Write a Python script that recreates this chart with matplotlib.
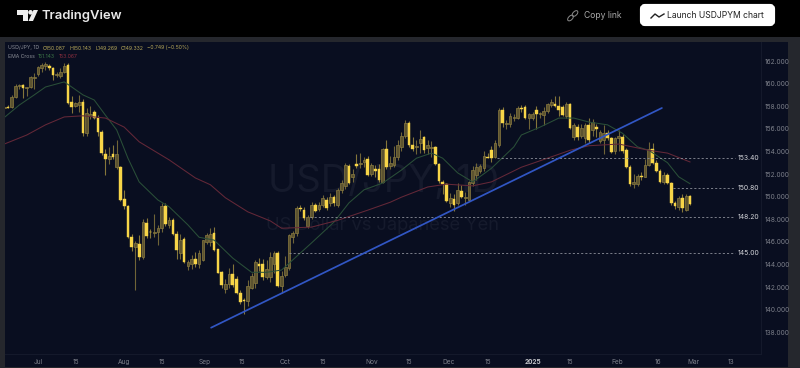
import matplotlib
matplotlib.use('Agg')
import matplotlib.pyplot as plt
from matplotlib.patches import Rectangle, Polygon, Circle, Ellipse, FancyBboxPatch
import numpy as np

plt.rcParams['font.family'] = ['Inter', 'DejaVu Sans']

# Daily candles, first bar is index -9, 1 Jul 2024 is index 0
opens = [157.85,157.95,157.9,158.85,159.75,159.85,159.6,159.7,160.5,160.85,
         161.4,161.6,161.6,161.35,160.75,160.7,161.0,161.65,158.4,158.0,
         158.1,158.4,155.6,157.15,157.45,156.95,155.7,153.8,153.3,153.8,
         152.6,152.65,149.8,149.15,146.4,145.55,145.8,144.65,147.65,146.9,
         146.8,146.85,147.2,149.2,147.5,147.95,146.7,145.0,146.25,143.9,
         144.0,144.45,144.0,144.4,146.0,146.0,146.8,145.35,143.3,141.8,
         142.3,143.15,142.7,141.5,140.8,140.8,141.95,142.35,144.0,144.05,
         142.9,142.9,144.0,145.0,142.1,143.05,143.65,146.4,146.8,149.0,
         148.85,147.4,148.2,149.25,148.9,149.3,149.7,149.4,150.0,149.3,
         150.6,150.9,152.7,151.7,152.9,152.9,153.1,153.35,152.0,152.4,
         152.4,151.3,154.2,152.7,152.8,153.5,154.4,155.4,156.5,154.55,
         154.4,154.7,155.3,154.3,154.3,154.4,152.9,151.3,151.1,149.4,
         149.8,149.4,150.5,149.9,149.7,151.2,151.9,152.3,152.5,153.5,
         154.1,153.5,154.55,157.65,156.4,156.4,157.0,157.0,157.85,157.9,
         157.0,157.0,157.7,157.3,157.2,157.6,158.1,158.2,158.0,157.95,
         157.1,158.2,155.3,156.2,155.4,155.2,156.3,155.9,156.2,154.9,
         155.0,155.6,155.15,154.0,155.2,155.25,154.1,152.65,151.1,151.1,
         151.8,151.75,152.8,154.2,153.0,152.25,151.3,151.9,151.2,149.4,
         149.1,149.85,148.8,150.087]
highs = [158.05,158.1,158.95,159.95,159.95,160.0,159.7,160.7,160.9,161.6,
         161.8,161.95,161.75,161.5,161.0,161.4,161.8,161.8,158.9,158.4,
         159.0,158.6,157.8,158.0,157.7,157.2,155.9,154.2,154.4,154.6,
         155.0,152.7,150.6,149.3,146.7,146.1,146.6,148.0,148.1,147.1,
         148.5,147.5,149.4,149.4,148.2,148.1,147.0,146.7,146.4,144.4,
         144.8,145.1,145.3,146.2,146.8,147.2,147.3,145.4,143.4,142.7,
         143.7,144.0,143.0,141.7,141.0,142.6,143.2,144.4,144.6,144.5,
         144.4,145.1,145.2,145.2,143.4,144.7,146.7,147.0,149.2,149.3,
         149.1,148.4,149.5,149.4,149.5,150.1,150.0,150.3,150.1,150.8,
         151.5,153.0,152.9,152.4,153.8,153.9,153.5,153.6,153.0,152.8,
         152.9,154.3,155.0,153.6,154.5,155.0,155.7,156.75,156.7,155.3,
         155.0,155.9,155.4,155.0,154.9,154.5,153.0,151.5,151.2,150.3,
         150.2,151.2,151.0,150.4,151.4,152.7,153.0,152.9,154.0,153.9,
         154.5,155.0,157.8,157.9,156.8,157.4,157.3,158.0,158.1,158.1,
         157.4,157.5,158.0,157.5,157.9,158.3,158.6,158.9,158.9,158.1,
         158.4,158.3,156.5,156.4,156.4,156.5,157.0,156.9,156.4,155.9,
         156.3,155.9,155.3,155.3,155.9,155.5,154.3,152.8,152.0,152.0,
         152.2,153.3,154.85,154.7,153.2,152.4,152.2,152.1,151.3,149.6,
         150.05,150.2,150.2,150.143]
lows = [157.65,157.8,157.8,158.7,159.5,158.7,158.9,159.6,159.5,160.7,
        161.0,161.2,161.2,160.3,160.6,160.5,160.9,158.2,157.4,157.9,
        157.5,155.4,155.4,156.9,156.9,155.4,153.7,151.9,152.9,153.3,
        152.4,149.6,148.9,146.3,145.2,141.7,144.4,144.5,146.3,146.3,
        146.4,145.7,146.9,147.4,147.2,146.6,144.5,144.5,144.1,143.5,
        143.6,143.8,143.7,144.3,145.8,145.6,145.2,143.2,141.9,141.5,
        141.9,142.0,141.4,140.5,139.6,140.3,141.8,141.9,143.4,142.6,
        142.7,142.4,143.2,142.0,141.5,142.9,143.5,145.9,146.5,148.7,
        147.95,147.2,148.0,148.6,148.7,149.1,148.8,149.2,149.2,149.1,
        150.3,150.7,151.1,151.3,152.5,152.5,152.6,151.8,151.8,151.7,
        151.3,151.2,152.4,152.4,152.6,153.2,154.0,155.2,154.4,154.0,
        153.8,153.9,153.9,153.8,153.5,152.8,151.2,150.2,149.5,149.1,
        148.7,149.3,149.9,149.3,149.6,150.9,151.5,152.1,152.3,153.4,
        153.1,153.4,154.4,156.2,156.0,156.2,156.7,156.9,157.5,156.9,
        156.0,156.8,156.0,157.0,156.3,157.4,157.9,157.9,157.1,157.1,
        157.0,156.0,155.0,155.0,155.2,154.7,154.7,155.4,155.3,154.7,
        153.8,155.0,153.9,153.8,154.0,153.9,152.5,150.9,150.8,150.9,
        151.5,151.7,152.7,152.9,152.2,151.2,151.1,151.15,149.3,148.9,
        148.8,148.6,148.7,149.269]
closes = [157.95,157.85,158.85,159.8,159.85,159.65,159.6,160.55,160.6,161.45,
          161.65,161.7,161.4,160.75,160.85,161.0,161.55,158.3,157.9,158.25,
          158.35,155.65,157.4,157.3,156.95,155.7,153.85,153.3,153.6,153.5,
          153.8,149.7,149.15,146.4,145.5,145.9,144.65,147.75,146.5,146.85,
          146.9,147.2,149.2,147.55,147.9,146.7,145.3,146.2,144.2,144.2,
          144.5,144.0,145.0,146.15,146.6,146.7,145.3,143.25,142.2,142.3,
          143.15,142.2,141.5,140.7,140.75,142.1,143.0,144.2,143.85,142.9,
          143.6,144.65,145.0,142.1,143.0,143.8,146.6,146.8,149.0,148.9,
          148.1,148.2,149.25,148.7,149.3,149.9,149.0,150.0,149.4,150.6,
          151.2,152.8,151.2,152.0,152.7,153.0,153.25,151.9,152.8,152.3,
          151.5,154.2,152.6,153.0,153.5,154.6,155.4,156.5,154.6,154.2,
          154.5,155.1,154.1,154.6,154.4,152.9,151.35,151.1,149.6,149.85,
          149.25,150.55,150.0,149.95,151.3,152.35,152.65,152.7,153.6,153.45,
          153.4,154.7,157.65,156.5,156.5,157.1,157.05,157.8,157.75,157.0,
          157.3,157.3,157.3,157.4,157.6,158.2,158.4,158.0,157.65,157.2,
          158.2,156.1,156.3,155.3,156.1,156.3,155.0,156.6,155.95,155.7,
          155.65,155.15,153.97,155.15,155.35,154.05,152.65,151.1,151.3,151.8,
          151.75,152.8,154.2,152.95,152.3,151.3,151.9,151.2,149.4,149.15,
          149.85,148.95,150.05,149.332]

ema_fast_idx = [-9,-5,-1,2,7,9,12,15,18,21,24,27,32,35,40,43,47,52,57,61,65,68,73,79,83,87,92,97,
                101,105,108,112,116,121,127,129,134,139,143,147,152,156,160,163,168,171,174]
ema_fast = [157.0,158.1,159.0,159.7,160.15,159.7,159.0,158.55,157.2,155.9,153.4,151.3,149.7,149.1,
            147.5,146.4,146.15,144.55,143.3,143.3,143.5,144.4,145.9,147.75,149.45,150.6,151.2,152.35,
            153.4,153.85,153.4,152.1,151.3,152.5,154.4,155.45,156.15,156.95,156.95,156.6,156.35,155.6,
            154.4,154.1,153.0,151.75,151.143]
ema_slow_idx = [-9,-3,2,7,12,18,23,27,35,42,46,50,56,62,65,73,80,88,94,97,104,109,116,121,129,136,
                142,147,155,163,168,174]
ema_slow = [154.65,155.45,156.35,157.05,157.15,156.95,156.15,154.85,153.25,151.65,151.05,149.9,148.65,
            147.85,147.2,147.3,147.9,148.8,149.5,149.95,150.85,151.1,150.95,151.3,152.6,153.4,154.1,
            154.5,154.65,154.1,153.85,153.067]

trend_idx = [46.2, 166.5]
trend_price = [138.4, 157.84]

# level, first bar of the dashed line, text
levels = [153.40, 150.80, 148.20, 145.00]
level_start = [122.5, 169.5, 72.5, 67]
level_labels = ['153.40', '150.80', '148.20', '145.00']

y_ticks = [138, 140, 142, 144, 146, 148, 150, 152, 154, 156, 158, 160, 162]
x_tick_pos = [0, 10, 23, 33, 44.6, 54.5, 66, 76, 89, 99, 109.5, 120, 132, 142, 154.5, 165.5, 175, 185]
x_tick_labels = ['Jul', '15', 'Aug', '15', 'Sep', '15', 'Oct', '15', 'Nov', '15', 'Dec', '15',
                 '2025', '15', 'Feb', '16', 'Mar', '13']

PANE = '#090e20'
W, H = 800, 368
PX_PER_BAR = 3.747
PX_PER_YEN = 11.3

fig = plt.figure(figsize=(8, 3.68), dpi=100, facecolor='#000000')

# page chrome in pixel coordinates
bg = fig.add_axes([0, 0, 1, 1], zorder=0)
bg.set_xlim(0, W)
bg.set_ylim(H, 0)
bg.axis('off')
bg.add_patch(Rectangle((0, 37), W, H - 37, fc='#25272d', ec='none'))
bg.add_patch(Rectangle((5, 42), 783, 325, fc=PANE, ec='none'))

# TradingView logo
bg.add_patch(Polygon([(17, 10), (28, 10), (28, 21), (22.5, 21), (22.5, 15), (17, 15)], fc='#eeeeee', ec='none'))
bg.add_patch(Circle((30.5, 12.3), 2.3, fc='#eeeeee', ec='none'))
bg.add_patch(Polygon([(33.5, 10), (38, 10), (33, 21), (28.5, 21)], fc='#eeeeee', ec='none'))
bg.text(42, 15.5, 'TradingView', color='#e8e8e8', fontsize=9.4, fontweight='semibold', va='center', ha='left')

# copy link
bg.add_patch(Ellipse((575, 13.5), 7, 4, angle=-45, fc='none', ec='#8c8c8c', lw=0.7))
bg.add_patch(Ellipse((570.5, 18), 7, 4, angle=-45, fc='none', ec='#8c8c8c', lw=0.7))
bg.text(584, 16, 'Copy link', color='#a8a8a8', fontsize=6.2, va='center', ha='left')

# launch button
bg.add_patch(FancyBboxPatch((642, 6), 131, 18, boxstyle='round,pad=0,rounding_size=3',
                            fc='#ffffff', ec='#ffffff', lw=3))
bg.plot([651, 655, 659, 664], [18, 14, 17, 14], color='#222222', lw=1)
bg.text(667, 16, 'Launch USDJPYM chart', color='#222222', fontsize=6.2, va='center', ha='left')

# watermark
bg.text(383, 182, 'USD/JPY, 1D', color='#151a2c', fontsize=27.5, va='center', ha='center')
bg.text(383, 225, 'US Dollar vs Japanese Yen', color='#151a2c', fontsize=13.2, va='center', ha='center')

# price pane, data coordinates set so that bar 0 sits at x=38 and 162 at y=61
ax = fig.add_axes([5 / W, (H - 354) / H, 756 / W, 312 / H], zorder=1)
ax.patch.set_alpha(0)
ax.set_xlim((5 - 38) / PX_PER_BAR, (761 - 38) / PX_PER_BAR)
ax.set_ylim(162 - (354 - 61) / PX_PER_YEN, 162 + (61 - 42) / PX_PER_YEN)

o = np.array(opens)
h = np.array(highs)
l = np.array(lows)
c = np.array(closes)
idx = np.arange(len(o)) - 9
up = c >= o

ax.vlines(idx[up], l[up], h[up], color='#6f6437', lw=0.8, zorder=2)
ax.vlines(idx[~up], l[~up], h[~up], color='#85763a', lw=0.8, zorder=2)
ax.bar(idx[up], np.maximum(c[up] - o[up], 0.06), bottom=o[up], width=0.72,
       color='#5c5330', edgecolor='#8a7b40', lw=0.5, zorder=3)
ax.bar(idx[~up], np.maximum(o[~up] - c[~up], 0.06), bottom=c[~up], width=0.72,
       color='#f7d548', edgecolor='#f7d548', lw=0.3, zorder=3)

ax.plot(ema_fast_idx, ema_fast, color='#2a4f38', lw=0.75, zorder=4)
ax.plot(ema_slow_idx, ema_slow, color='#642838', lw=0.75, zorder=4)
ax.plot(trend_idx, trend_price, color='#3156c4', lw=1.25, zorder=5, solid_capstyle='round')

label_idx = (735 - 38) / PX_PER_BAR
for lev, start, txt in zip(levels, level_start, level_labels):
    ax.plot([start, label_idx], [lev, lev], color='#8d909a', lw=0.6, dashes=(2.5, 2.5), zorder=4)
    ax.text(label_idx + 0.8, lev, txt, color='#d4d5da', fontsize=4.9, va='center', ha='left', zorder=6)

ax.yaxis.tick_right()
ax.set_yticks(y_ticks)
ax.set_yticklabels([f'{v:.3f}' for v in y_ticks])
ax.set_xticks(x_tick_pos)
ax.set_xticklabels(x_tick_labels)
ax.tick_params(axis='y', length=0, pad=2.5, labelsize=4.7, labelcolor='#7d808a')
ax.tick_params(axis='x', length=0, pad=3.8, labelsize=4.7, labelcolor='#7d808a')
ax.get_xticklabels()[12].set_fontweight('bold')
ax.get_xticklabels()[12].set_color('#c4c5ca')
for side in ['top', 'left']:
    ax.spines[side].set_visible(False)
for side in ['right', 'bottom']:
    ax.spines[side].set_color('#151a2c')
    ax.spines[side].set_linewidth(0.7)

# legend rows at the top of the pane
legend_row = [(8, 'USD/JPY, 1D', '#8a8d96'), (43, 'O150.087', '#b5a658'), (69, 'H150.143', '#b5a658'),
              (95, 'L149.269', '#b5a658'), (121, 'C149.332', '#b5a658'), (147, '\u22120.749 (\u22120.50%)', '#b5a658')]
for px, txt, col in legend_row:
    bg.text(px, 48, txt, color=col, fontsize=3.7, va='center', ha='left')
bg.text(8, 56, 'EMA Cross', color='#8a8d96', fontsize=3.7, va='center', ha='left')
bg.text(38, 56, '151.143', color='#3d7a48', fontsize=3.7, va='center', ha='left')
bg.text(59, 56, '153.067', color='#8e2f3f', fontsize=3.7, va='center', ha='left')

fig.savefig('out.png', dpi=100, facecolor=fig.get_facecolor())
